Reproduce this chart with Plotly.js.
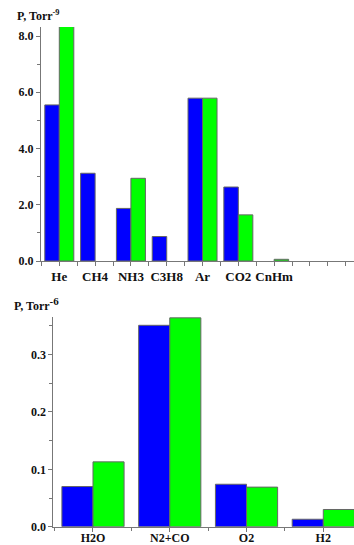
<!DOCTYPE html>
<html>
<head>
<meta charset="utf-8">
<script src="https://cdn.plot.ly/plotly-3.0.1.min.js"></script>
<style>html,body{margin:0;padding:0;background:#fff;}#chart{width:354px;height:545px;}</style>
</head>
<body>
<div id="chart"></div>
<script>
// Top panel: partial pressures (units of 1e-9 Torr)
const topCategories = ['He', 'CH4', 'NH3', 'C3H8', 'Ar', 'CO2', 'CnHm'];
const topBlue  = [5.55, 3.12, 1.87, 0.87, 5.79, 2.63, null];
const topGreen = [8.34, null, 2.94, null, 5.79, 1.64, 0.06];

// Bottom panel: partial pressures (units of 1e-6 Torr)
const bottomCategories = ['H2O', 'N2+CO', 'O2', 'H2'];
const bottomBlue  = [0.070, 0.351, 0.074, 0.013];
const bottomGreen = [0.113, 0.364, 0.069, 0.030];

const W = 354, H = 545;
const FONT = 'Liberation Serif, Times New Roman, serif';
const BLUE = '#0000ff', GREEN = '#00ff00';
const outline = {color: '#666', width: 1};

const topIdx = topCategories.map((c, i) => i);
const botIdx = bottomCategories.map((c, i) => i);

const traces = [
  {type: 'bar', x: topIdx, y: topBlue, xaxis: 'x', yaxis: 'y',
   marker: {color: BLUE, line: outline}, hoverinfo: 'skip'},
  {type: 'bar', x: topIdx, y: topGreen, xaxis: 'x', yaxis: 'y',
   marker: {color: GREEN, line: outline}, hoverinfo: 'skip'},
  {type: 'bar', x: botIdx, y: bottomBlue, xaxis: 'x2', yaxis: 'y2',
   marker: {color: BLUE, line: outline}, hoverinfo: 'skip'},
  {type: 'bar', x: botIdx, y: bottomGreen, xaxis: 'x2', yaxis: 'y2',
   marker: {color: GREEN, line: outline}, hoverinfo: 'skip'}
];

const axCommon = {
  showgrid: false, zeroline: false, showline: true, linecolor: '#777', linewidth: 1,
  ticks: 'outside', ticklen: 4, tickcolor: '#777', tickwidth: 1,
  tickfont: {family: FONT, size: 12, color: '#111', weight: 'bold'}
};

const layout = {
  width: W, height: H,
  margin: {l: 0, r: 0, t: 0, b: 0},
  paper_bgcolor: '#fff', plot_bgcolor: '#fff',
  showlegend: false,
  barmode: 'group', bargap: 0.19, bargroupgap: 0,
  xaxis: Object.assign({}, axCommon, {
    domain: [41 / W, 1], range: [-0.511, 8.23], anchor: 'y',
    tickmode: 'array', tickvals: topIdx, ticktext: topCategories,
    tickfont: {family: FONT, size: 13, color: '#111', weight: 'bold'},
    ticklabelstandoff: -1,
    minor: {tick0: 0.5, dtick: 0.5, ticks: 'outside', ticklen: 4, tickcolor: '#777'}
  }),
  yaxis: Object.assign({}, axCommon, {
    domain: [1 - 261 / H, 1 - 27 / H], range: [0, 8.32], anchor: 'x',
    tick0: 0, dtick: 2, tickformat: '.1f',
    minor: {dtick: 1, ticks: 'outside', ticklen: 3, tickcolor: '#777'}
  }),
  xaxis2: Object.assign({}, axCommon, {
    domain: [53.3 / W, 1], range: [-0.517, 3.40], anchor: 'y2',
    tickmode: 'array', tickvals: botIdx, ticktext: bottomCategories,
    tickfont: {family: FONT, size: 12, color: '#111', weight: 'bold'},
    ticklabelstandoff: -4,
    minor: {tick0: 0.5, dtick: 1, ticks: 'outside', ticklen: 3, tickcolor: '#777'}
  }),
  yaxis2: Object.assign({}, axCommon, {
    domain: [1 - 526.7 / H, 1 - 316.7 / H], range: [0, 0.366], anchor: 'x2',
    tick0: 0, dtick: 0.1, tickformat: '.1f',
    minor: {dtick: 0.05, ticks: 'outside', ticklen: 3, tickcolor: '#777'}
  }),
  annotations: [
    {xref: 'paper', yref: 'paper', x: 15 / W, y: 1 - 25 / H, xanchor: 'left', yanchor: 'bottom',
     showarrow: false, text: '<b>P, Torr<sup>-9</sup></b>',
     font: {family: FONT, size: 12, color: '#111'}},
    {xref: 'paper', yref: 'paper', x: 12 / W, y: 1 - 315 / H, xanchor: 'left', yanchor: 'bottom',
     showarrow: false, text: '<b>P, Torr<sup><span style="font-size:11px">-6</span></sup></b>',
     font: {family: FONT, size: 12, color: '#111'}}
  ]
};

Plotly.newPlot('chart', traces, layout, {staticPlot: true, displayModeBar: false});
</script>
</body>
</html>
